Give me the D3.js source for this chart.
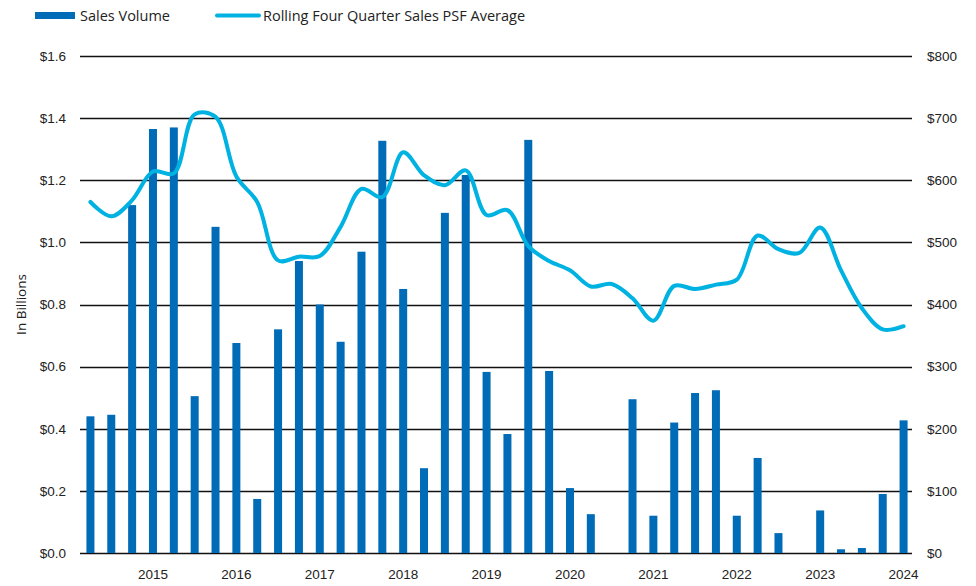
<!DOCTYPE html>
<html>
<head>
<meta charset="utf-8">
<script src="https://cdn.jsdelivr.net/npm/d3@7"></script>
<style>
  body { margin: 0; background: #fff; }
  svg { display: block; font-family: "Open Sans", "Noto Sans", sans-serif; }
  .tick text { fill: #222; font-size: 13.5px; }
</style>
</head>
<body>
<svg id="chart" width="976" height="586"></svg>
<script>
// quarters 2014 Q2 .. 2024 Q1
const quarters = [];
for (let y = 2014; y <= 2024; y++) {
  for (let q = 1; q <= 4; q++) {
    if ((y === 2014 && q < 2) || (y === 2024 && q > 1)) continue;
    quarters.push(`${y} Q${q}`);
  }
}

// sales volume, $ billions
const salesVolume = [
  0.44, 0.445, 1.12, 1.365, 1.37, 0.505, 1.05, 0.676, 0.174, 0.72,
  0.94, 0.80, 0.68, 0.97, 1.327, 0.85, 0.273, 1.095, 1.217, 0.583,
  0.383, 1.33, 0.586, 0.209, 0.125, 0, 0.495, 0.12, 0.42, 0.515,
  0.524, 0.12, 0.306, 0.064, 0, 0.137, 0.012, 0.016, 0.19, 0.427
];

// rolling four quarter sales PSF average, $
const psfAverage = [
  565, 542, 568, 614, 611, 706, 702, 606, 565, 471,
  477, 478, 525, 586, 573, 645, 608, 592, 616, 544,
  552, 494, 470, 455, 429, 433, 410, 374, 430, 425,
  432, 440, 511, 489, 483, 524, 455, 394, 360, 365
];

const leftTicks = [0, 0.2, 0.4, 0.6, 0.8, 1.0, 1.2, 1.4, 1.6];
const rightTicks = [0, 100, 200, 300, 400, 500, 600, 700, 800];

const barColor = "#006bb6";
const lineColor = "#00b2e2";

const svg = d3.select("#chart");
const plot = { left: 80, right: 912, top: 56, bottom: 553 };

const x = d3.scaleBand().domain(quarters).range([plot.left, plot.right + 2]).padding(0);
const yL = d3.scaleLinear().domain([0, 1.6]).range([plot.bottom, plot.top]);
const yR = d3.scaleLinear().domain([0, 800]).range([plot.bottom, plot.top]);

// gridlines
svg.append("g")
  .selectAll("line")
  .data(leftTicks)
  .join("line")
  .attr("x1", plot.left)
  .attr("x2", plot.right)
  .attr("y1", d => Math.round(yL(d)) + 0.5)
  .attr("y2", d => Math.round(yL(d)) + 0.5)
  .attr("stroke", "#111")
  .attr("stroke-width", 1.4);

// left axis
const leftAxis = svg.append("g")
  .attr("transform", `translate(${plot.left},0)`)
  .call(d3.axisLeft(yL).tickValues(leftTicks).tickSize(0).tickPadding(14)
    .tickFormat(d => "$" + d.toFixed(1)));
leftAxis.select(".domain").remove();

// right axis
const rightAxis = svg.append("g")
  .attr("transform", `translate(${plot.right},0)`)
  .call(d3.axisRight(yR).tickValues(rightTicks).tickSize(0).tickPadding(15)
    .tickFormat(d => "$" + d));
rightAxis.select(".domain").remove();

// bottom axis: year labels at Q1
const bottomAxis = svg.append("g")
  .attr("transform", `translate(0,${plot.bottom})`)
  .call(d3.axisBottom(x)
    .tickValues(quarters.filter(q => q.endsWith("Q1")))
    .tickSize(0).tickPadding(16)
    .tickFormat(q => q.slice(0, 4)));
bottomAxis.select(".domain").remove();

// y title
svg.append("text")
  .attr("transform", `translate(26,${(plot.top + plot.bottom) / 2}) rotate(-90)`)
  .attr("text-anchor", "middle")
  .attr("fill", "#222")
  .attr("font-size", 13.5)
  .text("In Billions");

// bars
const barW = 8;
svg.append("g")
  .selectAll("rect")
  .data(salesVolume)
  .join("rect")
  .attr("x", (d, i) => x(quarters[i]) + x.bandwidth() / 2 - barW / 2)
  .attr("y", d => yL(d))
  .attr("width", barW)
  .attr("height", d => plot.bottom - yL(d))
  .attr("fill", barColor);

// line
const line = d3.line()
  .x((d, i) => x(quarters[i]) + x.bandwidth() / 2)
  .y(d => yR(d))
  .curve(d3.curveCatmullRom.alpha(0.5));

svg.append("path")
  .datum(psfAverage)
  .attr("d", line)
  .attr("fill", "none")
  .attr("stroke", lineColor)
  .attr("stroke-width", 4)
  .attr("stroke-linecap", "round")
  .attr("stroke-linejoin", "round");

// legend
const legend = svg.append("g").attr("font-size", 14.5).attr("fill", "#222");
legend.append("rect").attr("x", 35).attr("y", 12).attr("width", 40).attr("height", 7).attr("fill", barColor);
legend.append("text").attr("x", 80).attr("y", 20.5).text("Sales Volume");
legend.append("line").attr("x1", 217).attr("x2", 259).attr("y1", 15.5).attr("y2", 15.5)
  .attr("stroke", lineColor).attr("stroke-width", 4).attr("stroke-linecap", "round");
legend.append("text").attr("x", 263).attr("y", 20.5).text("Rolling Four Quarter Sales PSF Average");
</script>
</body>
</html>
